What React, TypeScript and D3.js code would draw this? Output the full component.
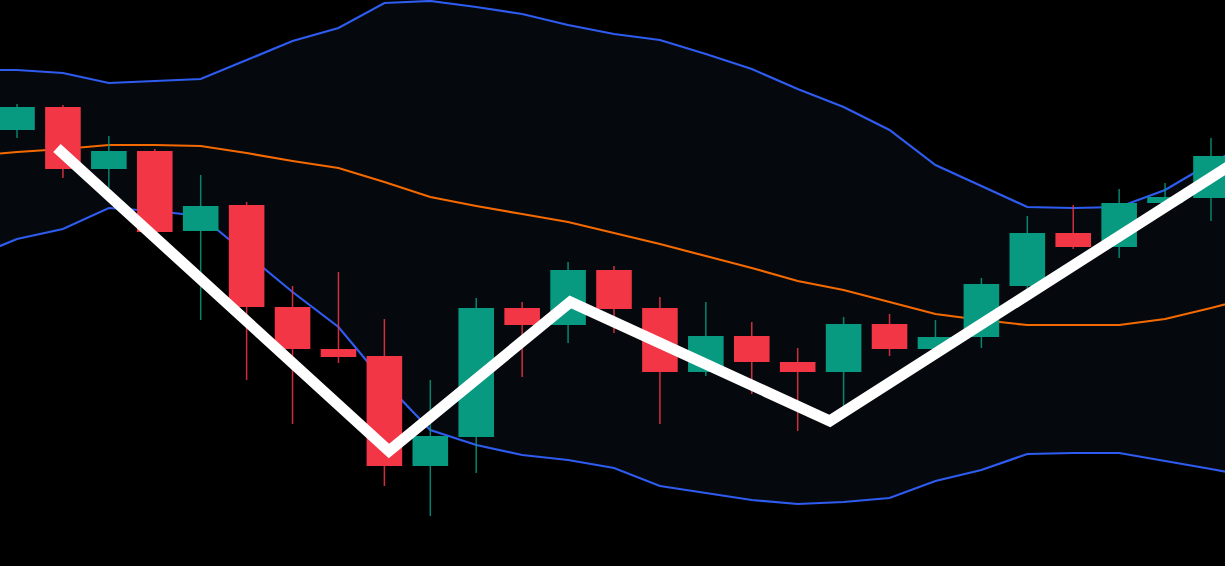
import React from "react";
import * as d3 from "d3";

// ---- Data (price units) ----
const candleOpen = [47.0, 49.3, 43.1, 44.9, 36.9, 39.5, 29.3, 25.1, 24.4, 13.4, 16.3, 29.2, 27.5, 33.0, 29.2, 22.8, 26.4, 23.8, 22.8, 27.6, 25.1, 26.3, 31.4, 36.7, 35.3, 39.7, 40.2];
const candleHigh = [49.6, 49.5, 46.4, 45.1, 42.5, 39.8, 31.4, 32.8, 28.1, 22.0, 30.2, 29.8, 33.8, 33.4, 30.3, 29.8, 27.8, 25.2, 28.3, 28.6, 28.0, 32.2, 38.4, 39.5, 41.1, 41.7, 46.2];
const candleLow = [46.2, 42.2, 41.2, 36.6, 28.0, 22.0, 17.6, 23.7, 11.4, 8.4, 12.7, 22.3, 25.7, 26.7, 17.6, 22.4, 20.6, 16.9, 19.3, 24.4, 24.7, 25.2, 30.8, 35.1, 34.2, 39.4, 37.9];
const candleClose = [49.3, 43.1, 44.9, 36.8, 39.4, 29.3, 25.1, 24.3, 13.4, 16.4, 29.2, 27.5, 33.0, 29.1, 22.8, 26.4, 23.8, 22.8, 27.6, 25.1, 26.3, 31.6, 36.7, 35.3, 39.7, 40.3, 44.4];

// Bollinger bands, from bar index -1 to 27 (first and last lie just off the view)
const bandStart = -1;
const upperBand = [53.0, 53.0, 52.7, 51.7, 51.9, 52.1, 54.0, 55.9, 57.2, 59.7, 59.9, 59.3, 58.6, 57.5, 56.6, 56.0, 54.6, 53.1, 51.1, 49.3, 47.0, 43.5, 41.4, 39.3, 39.2, 39.3, 41.0, 43.7, 46.0];
const middleBand = [44.4, 44.8, 45.1, 45.5, 45.5, 45.4, 44.7, 43.9, 43.2, 41.8, 40.3, 39.4, 38.6, 37.8, 36.7, 35.6, 34.4, 33.2, 31.9, 31.0, 29.8, 28.6, 28.0, 27.5, 27.5, 27.5, 28.1, 29.2, 30.4];
const lowerBand = [34.2, 36.1, 37.1, 39.2, 38.9, 38.4, 34.6, 30.8, 27.3, 21.8, 17.0, 15.5, 14.5, 14.0, 13.2, 11.4, 10.7, 10.0, 9.6, 9.8, 10.2, 11.9, 13.0, 14.6, 14.7, 14.7, 13.9, 13.1, 12.2];

// Zigzag overlay (bar index, price)
const zigIndex = [0.87, 8.1, 12.05, 17.7, 26.6];
const zigPrice = [45.2, 14.9, 29.8, 17.9, 44.0];

const W = 1225;
const H = 566;

export default function App() {
  const x = d3.scaleLinear().domain([0, 26]).range([17, 1211]);
  const y = d3.scaleLinear().domain([60, 3.4]).range([0, H]);
  const step = x(1) - x(0);
  const bodyW = step * 0.775;

  const bandIdx = upperBand.map((_, i) => i + bandStart);
  const areaGen = d3
    .area<number>()
    .x((i) => x(bandIdx[i]))
    .y0((i) => y(lowerBand[i]))
    .y1((i) => y(upperBand[i]));
  const lineGen = (vals: number[]) =>
    d3
      .line<number>()
      .x((i) => x(bandIdx[i]))
      .y((i) => y(vals[i]))(d3.range(vals.length)) || "";

  const zig =
    d3
      .line<number>()
      .x((i) => x(zigIndex[i]))
      .y((i) => y(zigPrice[i]))(d3.range(zigIndex.length)) || "";

  const green = "#089981";
  const red = "#f23645";

  return (
    <svg
      width={W}
      height={H}
      style={{ position: "fixed", left: 0, top: 0, background: "#000", display: "block" }}
    >
      <rect x={0} y={0} width={W} height={H} fill="#000" />
      <path d={areaGen(d3.range(upperBand.length)) || ""} fill="#05090d" />
      <path d={lineGen(upperBand)} fill="none" stroke="#2f5cf0" strokeWidth={2.2} />
      <path d={lineGen(lowerBand)} fill="none" stroke="#2f5cf0" strokeWidth={2.2} />
      <path d={lineGen(middleBand)} fill="none" stroke="#f56a00" strokeWidth={2.2} />
      {candleOpen.map((o, i) => {
        const c = candleClose[i];
        const up = c >= o;
        const col = up ? green : red;
        const cx = x(i);
        const top = y(Math.max(o, c));
        const bot = y(Math.min(o, c));
        return (
          <g key={i}>
            <line
              x1={cx}
              x2={cx}
              y1={y(candleHigh[i])}
              y2={y(candleLow[i])}
              stroke={col}
              strokeWidth={1.5}
              opacity={0.85}
            />
            <rect x={cx - bodyW / 2} y={top} width={bodyW} height={Math.max(1, bot - top)} fill={col} />
          </g>
        );
      })}
      <path d={zig} fill="none" stroke="#ffffff" strokeWidth={11} strokeLinejoin="miter" strokeMiterlimit={10} />
    </svg>
  );
}
